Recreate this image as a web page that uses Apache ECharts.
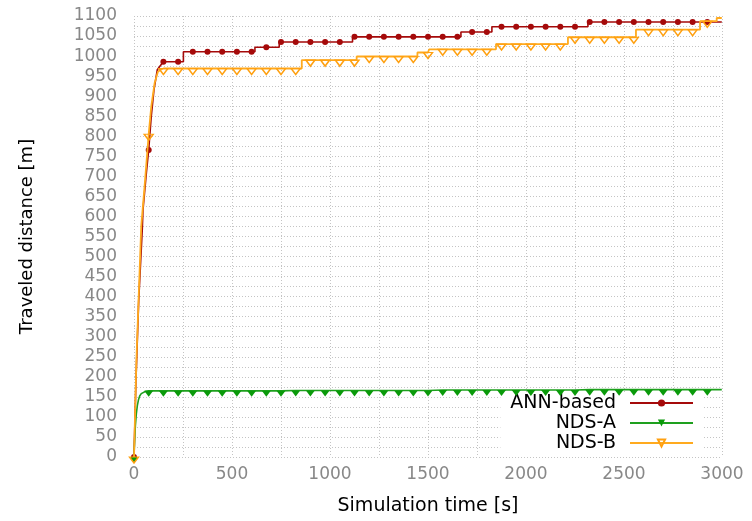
<!DOCTYPE html>
<html>
<head>
<meta charset="utf-8">
<script src="https://cdn.jsdelivr.net/npm/echarts@6/dist/echarts.min.js"></script>
<style>
  html, body { margin: 0; padding: 0; background: #ffffff; }
  #chart { width: 752px; height: 521px; }
</style>
</head>
<body>
<div id="chart"></div>
<script>
// Traveled distance over simulation time, three navigation strategies.
// Each series is a list of [time s, distance m] polyline vertices; a jump is
// written as two vertices at the same time. Markers sit on the vertices taken
// every 75 s.
const seriesNames = ['ANN-based', 'NDS-A', 'NDS-B'];

const annBased = [
  [0, 0], [10, 190], [24, 390], [42, 565], [46, 617], [63, 708], [75, 766],
  [88, 849], [102, 916], [119, 966], [131, 974], [150, 986], [225, 986],
  [252, 986], [252, 1011], [300, 1011], [375, 1011], [450, 1011], [525, 1011],
  [600, 1011], [617, 1011], [617, 1022], [675, 1022], [741, 1022], [741, 1035],
  [750, 1035], [825, 1035], [900, 1035], [975, 1035], [1050, 1035],
  [1115, 1035], [1115, 1048], [1125, 1048], [1200, 1048], [1275, 1048],
  [1350, 1048], [1425, 1048], [1500, 1048], [1575, 1048], [1650, 1048],
  [1668, 1048], [1668, 1060], [1725, 1060], [1800, 1060], [1826, 1060],
  [1826, 1073], [1875, 1073], [1950, 1073], [2025, 1073], [2100, 1073],
  [2175, 1073], [2250, 1073], [2316, 1073], [2316, 1085], [2325, 1085],
  [2400, 1085], [2475, 1085], [2550, 1085], [2625, 1085], [2700, 1085],
  [2775, 1085], [2850, 1085], [2925, 1085], [2999, 1085]
];

const ndsA = [
  [0, 0], [3, 40], [7, 78], [12, 108], [17, 128], [23, 143], [29, 152],
  [37, 158], [46, 162], [60, 164], [75, 165], [150, 165], [225, 165],
  [300, 165], [375, 165], [450, 165], [525, 165], [600, 165], [675, 165],
  [750, 165], [825, 166], [900, 166], [975, 166], [1050, 166], [1125, 166],
  [1200, 166], [1275, 166], [1350, 166], [1425, 166], [1500, 166],
  [1575, 167], [1650, 167], [1725, 167], [1800, 167], [1875, 167],
  [1950, 167], [2025, 167], [2100, 167], [2175, 167], [2250, 167],
  [2325, 168], [2400, 168], [2475, 168], [2550, 168], [2625, 168],
  [2700, 168], [2775, 168], [2850, 168], [2925, 168], [2999, 168]
];

const ndsB = [
  [0, 0], [12, 236], [24, 401], [37, 576], [54, 675], [75, 805], [88, 874],
  [105, 932], [122, 961], [139, 967], [150, 969], [225, 969], [300, 969],
  [375, 969], [450, 969], [525, 969], [600, 969], [675, 969], [750, 969],
  [825, 969], [856, 969], [856, 990], [900, 990], [975, 990], [1050, 990],
  [1125, 990], [1136, 990], [1136, 999], [1200, 999], [1275, 999], [1350, 999],
  [1425, 999], [1446, 999], [1446, 1009], [1500, 1009], [1506, 1009],
  [1506, 1017], [1575, 1017], [1650, 1017], [1725, 1017], [1800, 1017],
  [1847, 1017], [1847, 1030], [1875, 1030], [1950, 1030], [2025, 1030],
  [2100, 1030], [2175, 1030], [2214, 1030], [2214, 1047], [2250, 1047],
  [2325, 1047], [2400, 1047], [2475, 1047], [2550, 1047], [2561, 1047],
  [2561, 1066], [2625, 1066], [2700, 1066], [2775, 1066], [2850, 1066],
  [2888, 1066], [2888, 1087], [2925, 1087], [2973, 1087], [2973, 1095],
  [2999, 1095]
];

const xRange = { min: 0, max: 3000, step: 500 };
const yRange = { min: 0, max: 1100, step: 50 };

const MARK_EVERY = 75;
const DOWN_TRIANGLE = 'path://M0,0L10,0L5,7Z';
const gridLine = { color: '#c4c4c4', width: 1, type: [1, 2] };
const font = 'DejaVu Sans';

// keep a marker only on the regular sampling instants
function withMarkers(points) {
  return points.map(p => (p[0] % MARK_EVERY === 0 ? { value: p } : { value: p, symbol: 'none' }));
}

const chart = echarts.init(document.getElementById('chart'), null, { renderer: 'canvas' });

chart.setOption({
  animation: false,
  backgroundColor: '#ffffff',
  grid: { left: 134, right: 30, top: 16, bottom: 63, containLabel: false },
  legend: {
    orient: 'vertical',
    right: 50,
    top: 392,
    z: 1,
    align: 'right',
    backgroundColor: '#ffffff',
    padding: [1, 8, 4, 10],
    itemWidth: 63,
    itemHeight: 9,
    itemGap: 0,
    textStyle: { fontFamily: font, fontSize: 19, lineHeight: 20, color: '#000', padding: [0, 9, 0, 0] },
    data: seriesNames
  },
  xAxis: {
    type: 'value',
    min: xRange.min,
    max: xRange.max,
    interval: xRange.step,
    name: 'Simulation time [s]',
    nameLocation: 'middle',
    nameGap: 40,
    nameTextStyle: { fontFamily: font, fontSize: 19, color: '#000' },
    axisLine: { show: false },
    axisTick: { show: false },
    axisLabel: { fontFamily: font, fontSize: 17, color: '#888888', margin: 9, formatter: v => String(v) },
    splitLine: { show: true, lineStyle: gridLine },
    minorTick: { show: false, splitNumber: 2 },
    minorSplitLine: { show: true, lineStyle: gridLine }
  },
  yAxis: {
    type: 'value',
    min: yRange.min,
    max: yRange.max,
    interval: yRange.step,
    name: 'Traveled distance [m]',
    nameLocation: 'middle',
    nameGap: 98,
    nameTextStyle: { fontFamily: font, fontSize: 18, color: '#000' },
    axisLine: { show: false },
    axisTick: { show: false },
    axisLabel: { fontFamily: font, fontSize: 17, color: '#888888', margin: 17, formatter: v => String(v) },
    splitLine: { show: true, lineStyle: gridLine },
    minorTick: { show: false, splitNumber: 2 },
    minorSplitLine: { show: true, lineStyle: gridLine }
  },
  series: [
    {
      name: seriesNames[0],
      type: 'line',
      data: withMarkers(annBased),
      showAllSymbol: true,
      symbol: 'circle',
      symbolSize: 6,
      lineStyle: { color: '#a50a0a', width: 1.6 },
      itemStyle: { color: '#a50a0a' },
      z: 2
    },
    {
      name: seriesNames[1],
      type: 'line',
      data: withMarkers(ndsA),
      showAllSymbol: true,
      symbol: DOWN_TRIANGLE,
      symbolSize: [9, 6],
      symbolOffset: [0, 3],
      lineStyle: { color: '#1ea01e', width: 1.6 },
      itemStyle: { color: '#0a9a0a' },
      z: 3
    },
    {
      name: seriesNames[2],
      type: 'line',
      data: withMarkers(ndsB),
      showAllSymbol: true,
      symbol: DOWN_TRIANGLE,
      symbolSize: [9, 6],
      symbolOffset: [0, 3],
      lineStyle: { color: '#ffaa1e', width: 1.8 },
      itemStyle: { color: 'rgba(255,255,255,0)', borderColor: '#ffa010', borderWidth: 1.4 },
      z: 4
    }
  ]
});
</script>
</body>
</html>
